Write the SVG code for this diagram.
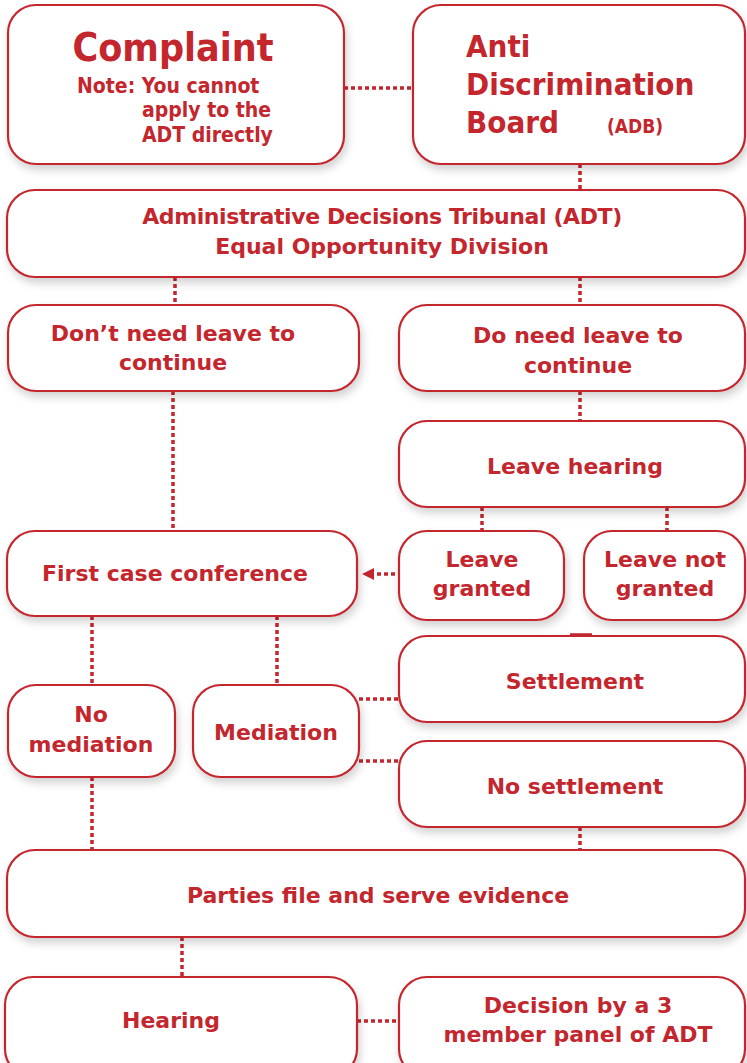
<svg xmlns="http://www.w3.org/2000/svg" width="747" height="1063" viewBox="0 0 747 1063">
<style>
.box{fill:#fff;stroke:#c4262e;stroke-width:2.2;filter:url(#sh)}
.t{font-family:"DejaVu Sans","Liberation Sans",sans-serif;font-weight:bold;font-size:22px;fill:#c4262e;text-anchor:middle}
.c{font-family:"DejaVu Sans Condensed","DejaVu Sans","Liberation Sans",sans-serif;font-weight:bold;fill:#c4262e}
.dl{stroke:#c4262e;stroke-width:3.5;stroke-dasharray:4 3;fill:none}
.ah{fill:#c4262e}
</style>
<defs>
<filter id="sh" x="-10%" y="-20%" width="120%" height="150%">
<feDropShadow dx="2" dy="5" stdDeviation="4" flood-color="#000" flood-opacity="0.18"/>
</filter>
</defs>
<rect width="747" height="1063" fill="#fff"/>
<g id="connectors">
<line class="dl" x1="344" y1="88" x2="413" y2="88"/>
<line class="dl" x1="580" y1="164" x2="580" y2="190"/>
<line class="dl" x1="175" y1="277" x2="175" y2="305"/>
<line class="dl" x1="580" y1="277" x2="580" y2="305"/>
<line class="dl" x1="580" y1="391" x2="580" y2="421"/>
<line class="dl" x1="173" y1="391" x2="173" y2="531"/>
<line class="dl" x1="482" y1="507" x2="482" y2="531"/>
<line class="dl" x1="667" y1="507" x2="667" y2="531"/>
<line class="dl" x1="395" y1="574" x2="372" y2="574"/>
<path class="ah" d="M362,574 L374,568 L374,580 z"/>
<line x1="570" y1="635" x2="592" y2="635" stroke="#c4262e" stroke-width="3.5"/>
<line class="dl" x1="92" y1="616" x2="92" y2="685"/>
<line class="dl" x1="277" y1="616" x2="277" y2="685"/>
<line class="dl" x1="359" y1="699" x2="399" y2="699"/>
<line class="dl" x1="359" y1="761" x2="399" y2="761"/>
<line class="dl" x1="92" y1="777" x2="92" y2="850"/>
<line class="dl" x1="580" y1="827" x2="580" y2="850"/>
<line class="dl" x1="182" y1="937" x2="182" y2="977"/>
<line class="dl" x1="357" y1="1021" x2="399" y2="1021"/>
</g>
<g id="complaint">
<rect class="box" x="8" y="5" width="336" height="159" rx="28"/>
<text class="c" x="173" y="61" font-size="39" text-anchor="middle">Complaint</text>
<text class="c" x="77" y="93" font-size="21">Note: You cannot</text>
<text class="c" x="142" y="117" font-size="21">apply to the</text>
<text class="c" x="142" y="142" font-size="21">ADT directly</text>
</g>
<g id="adb">
<rect class="box" x="413" y="5" width="332" height="159" rx="28"/>
<text class="c" x="466" y="57" font-size="31">Anti</text>
<text class="c" x="466" y="95" font-size="31">Discrimination</text>
<text class="c" x="466" y="133" font-size="31">Board</text>
<text class="c" x="607" y="133" font-size="19">(ADB)</text>
</g>
<g id="adt">
<rect class="box" x="7" y="190" width="738" height="87" rx="28"/>
<text class="t" x="382" y="224" font-size="21" letter-spacing="-0.4">Administrative Decisions Tribunal (ADT)</text>
<text class="t" x="382" y="254" font-size="21">Equal Opportunity Division</text>
</g>
<g id="dont-need">
<rect class="box" x="8" y="305" width="351" height="86" rx="28"/>
<text class="t" x="173" y="341">Don’t need leave to</text>
<text class="t" x="173" y="370">continue</text>
</g>
<g id="do-need">
<rect class="box" x="399" y="305" width="346" height="86" rx="28"/>
<text class="t" x="578" y="343">Do need leave to</text>
<text class="t" x="578" y="373">continue</text>
</g>
<g id="leave-hearing">
<rect class="box" x="399" y="421" width="346" height="86" rx="28"/>
<text class="t" x="575" y="474">Leave hearing</text>
</g>
<g id="first-case">
<rect class="box" x="7" y="531" width="350" height="85" rx="28"/>
<text class="t" x="175" y="581">First case conference</text>
</g>
<g id="leave-granted">
<rect class="box" x="399" y="531" width="165" height="89" rx="28"/>
<text class="t" x="482" y="567">Leave</text>
<text class="t" x="482" y="596">granted</text>
</g>
<g id="leave-not-granted">
<rect class="box" x="584" y="531" width="161" height="89" rx="28"/>
<text class="t" x="665" y="567">Leave not</text>
<text class="t" x="665" y="596">granted</text>
</g>
<g id="settlement">
<rect class="box" x="399" y="636" width="346" height="86" rx="28"/>
<text class="t" x="575" y="689">Settlement</text>
</g>
<g id="no-mediation">
<rect class="box" x="8" y="685" width="167" height="92" rx="28"/>
<text class="t" x="91" y="722">No</text>
<text class="t" x="91" y="752">mediation</text>
</g>
<g id="mediation">
<rect class="box" x="193" y="685" width="166" height="92" rx="28"/>
<text class="t" x="276" y="740">Mediation</text>
</g>
<g id="no-settlement">
<rect class="box" x="399" y="741" width="346" height="86" rx="28"/>
<text class="t" x="575" y="794">No settlement</text>
</g>
<g id="parties">
<rect class="box" x="7" y="850" width="738" height="87" rx="28"/>
<text class="t" x="378" y="903">Parties file and serve evidence</text>
</g>
<g id="hearing">
<rect class="box" x="5" y="977" width="352" height="100" rx="28"/>
<text class="t" x="171" y="1028">Hearing</text>
</g>
<g id="decision">
<rect class="box" x="399" y="977" width="346" height="100" rx="28"/>
<text class="t" x="578" y="1013">Decision by a 3</text>
<text class="t" x="578" y="1042">member panel of ADT</text>
</g>
</svg>
